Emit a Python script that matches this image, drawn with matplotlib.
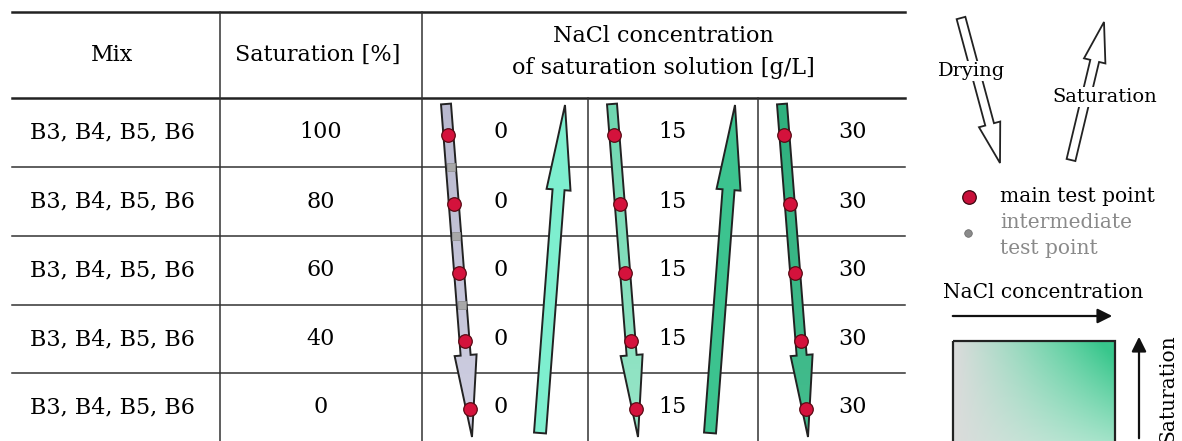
import numpy as np
import matplotlib.pyplot as plt
from matplotlib.patches import FancyArrow, Rectangle
from matplotlib.colors import LinearSegmentedColormap

# table content
mixes = ['B3, B4, B5, B6'] * 5
saturation = [100, 80, 60, 40, 0]
nacl = [0, 15, 30]
intermediate = [90, 70, 50]          # intermediate test points (0 g/L only)
dry_colors = ['#cfcfe2', '#98e6c8', '#44bd8e']
sat_colors = ['#7eefcf', '#3cc38f']

# layout (pixels)
W, H = 1182, 441
row_lines = [98, 167, 236, 305, 373, 441]
col_lines = [12, 220, 422, 588, 758, 905]
FONT = 'DejaVu Serif'
FS = 16

fig = plt.figure(figsize=(W / 100, H / 100), dpi=100)
ax = fig.add_axes([0, 0, 1, 1])
ax.set_xlim(0, W)
ax.set_ylim(H, 0)
ax.axis('off')

# grid
ax.plot([col_lines[0], col_lines[-1]], [12, 12], color='#222', lw=1.8)
ax.plot([col_lines[0], col_lines[-1]], [98, 98], color='#222', lw=1.8)
for y in row_lines[1:-1]:
    ax.plot([col_lines[0], col_lines[-1]], [y, y], color='#333', lw=1.1)
for x in col_lines[1:3]:
    ax.plot([x, x], [12, H], color='#333', lw=1.1)
for x in col_lines[3:5]:
    ax.plot([x, x], [98, H], color='#333', lw=1.1)

# header
ax.text(112, 55, 'Mix', ha='center', va='center', fontsize=FS, family=FONT)
ax.text(318, 55, 'Saturation [%]', ha='center', va='center', fontsize=FS, family=FONT)
ax.text(663, 36, 'NaCl concentration', ha='center', va='center', fontsize=FS, family=FONT)
ax.text(663, 68, 'of saturation solution [g/L]', ha='center', va='center', fontsize=FS, family=FONT)

row_c = [(row_lines[i] + row_lines[i + 1]) / 2 for i in range(5)]
for i in range(5):
    ax.text(112, row_c[i], mixes[i], ha='center', va='center', fontsize=FS, family=FONT)
    ax.text(321, row_c[i], str(saturation[i]), ha='center', va='center', fontsize=FS, family=FONT)
    for j, c in enumerate(nacl):
        xc = [501, 672, 852][j]
        ax.text(xc, row_c[i], str(c), ha='center', va='center', fontsize=FS, family=FONT)


def sat_to_y(s):
    # 100 % -> first row centre, 0 % -> last row centre
    return np.interp(-s, [-x for x in saturation], row_c)


def grad_arrow(patch, c1, c2):
    ax.add_patch(patch)
    cmap = LinearSegmentedColormap.from_list('g', [c1, c2])
    ext = patch.get_extents().transformed(ax.transData.inverted())
    g = np.linspace(0, 1, 64).reshape(-1, 1)
    im = ax.imshow(g, cmap=cmap, extent=[ext.x0, ext.x1, ext.y1, ext.y0],
                   aspect='auto', zorder=patch.get_zorder() - 0.1)
    im.set_clip_path(patch)


for j in range(3):
    left, right = col_lines[2 + j], col_lines[3 + j]
    xs, ys = left + 24, 104
    xt, yt = left + 50, 437
    arr = FancyArrow(xs, ys, xt - xs, yt - ys, width=10, head_width=22, head_length=82,
                     length_includes_head=True, facecolor='none', edgecolor='#222',
                     lw=1.4, zorder=3)
    c2 = {0: '#b9b9cf', 1: '#6fd7b0', 2: '#2fb07e'}[j]
    grad_arrow(arr, dry_colors[j], c2)
    # main test points
    for s in saturation:
        y = sat_to_y(s) + 2
        x = xs + (xt - xs) * (y - ys) / (yt - ys)
        ax.scatter(x, y, s=95, color='#d4123c', edgecolor='#5a0a14', lw=0.9, zorder=5)
    if j == 0:
        for s in intermediate:
            y = sat_to_y(s)
            x = xs + (xt - xs) * (y - ys) / (yt - ys)
            ax.scatter(x, y, s=38, marker='s', color='#a8a8a8', edgecolor='#8a8a8a',
                       lw=0.5, zorder=5)
    if j < 2:
        bx, by = right - 48, 433
        tx, ty = right - 23, 105
        up = FancyArrow(bx, by, tx - bx, ty - by, width=12, head_width=24, head_length=85,
                        length_includes_head=True, facecolor=sat_colors[j],
                        edgecolor='#222', lw=1.4, zorder=3)
        ax.add_patch(up)

# legend: drying / saturation arrows
ax.add_patch(FancyArrow(961, 18, 39, 145, width=9, head_width=22, head_length=40,
                        length_includes_head=True, facecolor='white', edgecolor='#222', lw=1.3))
ax.text(972, 71, 'Drying', ha='center', va='center', fontsize=14, family=FONT,
        bbox=dict(facecolor='white', edgecolor='none', pad=1))
ax.add_patch(FancyArrow(1071, 160, 33, -138, width=9, head_width=22, head_length=40,
                        length_includes_head=True, facecolor='white', edgecolor='#222', lw=1.3))
ax.text(1105, 97, 'Saturation', ha='center', va='center', fontsize=14, family=FONT,
        bbox=dict(facecolor='white', edgecolor='none', pad=1))

# legend: points
ax.scatter(969, 197, s=95, color='#c8103a', edgecolor='#3a0610', lw=0.9, zorder=5)
ax.text(1000, 196, 'main test point', ha='left', va='center', fontsize=14.5, family=FONT)
ax.scatter(968, 233, s=30, color='#8a8a8a', edgecolor='#666', lw=0.5, zorder=5)
ax.text(1000, 223, 'intermediate', ha='left', va='center', fontsize=14.5, family=FONT, color='#8a8a8a')
ax.text(1000, 248, 'test point', ha='left', va='center', fontsize=14.5, family=FONT, color='#8a8a8a')

# legend: colour scale
ax.text(1043, 292, 'NaCl concentration', ha='center', va='center', fontsize=14.5, family=FONT)
ax.annotate('', xy=(1115, 316), xytext=(950, 316),
            arrowprops=dict(arrowstyle='-|>', color='#111', lw=1.6, mutation_scale=22))
ax.annotate('', xy=(1139, 334), xytext=(1139, 441),
            arrowprops=dict(arrowstyle='-|>', color='#111', lw=1.6, mutation_scale=22))
ax.text(1168, 443, 'Saturation', ha='center', va='bottom', rotation=90, fontsize=14.5, family=FONT)

xx = np.linspace(0, 1, 100)
yy = np.linspace(1, 0, 100)
X, Y = np.meshgrid(xx, yy)
grey = np.array([0.86, 0.86, 0.86])
green = np.array([0.22, 0.78, 0.55])
white = np.array([0.96, 0.98, 0.97])
t = np.clip(X * (0.35 + 0.65 * Y) * 1.1, 0, 1)[..., None]
base = grey * (1 - X[..., None]) + white * X[..., None]
img = base * (1 - t) + green * t
rect = Rectangle((953, 341), 162, 110, facecolor='none', edgecolor='#222', lw=1.6, zorder=4)
ax.add_patch(rect)
ax.imshow(img, extent=[953, 1115, 451, 341], aspect='auto', zorder=3)

fig.savefig('out.png', dpi=100)
